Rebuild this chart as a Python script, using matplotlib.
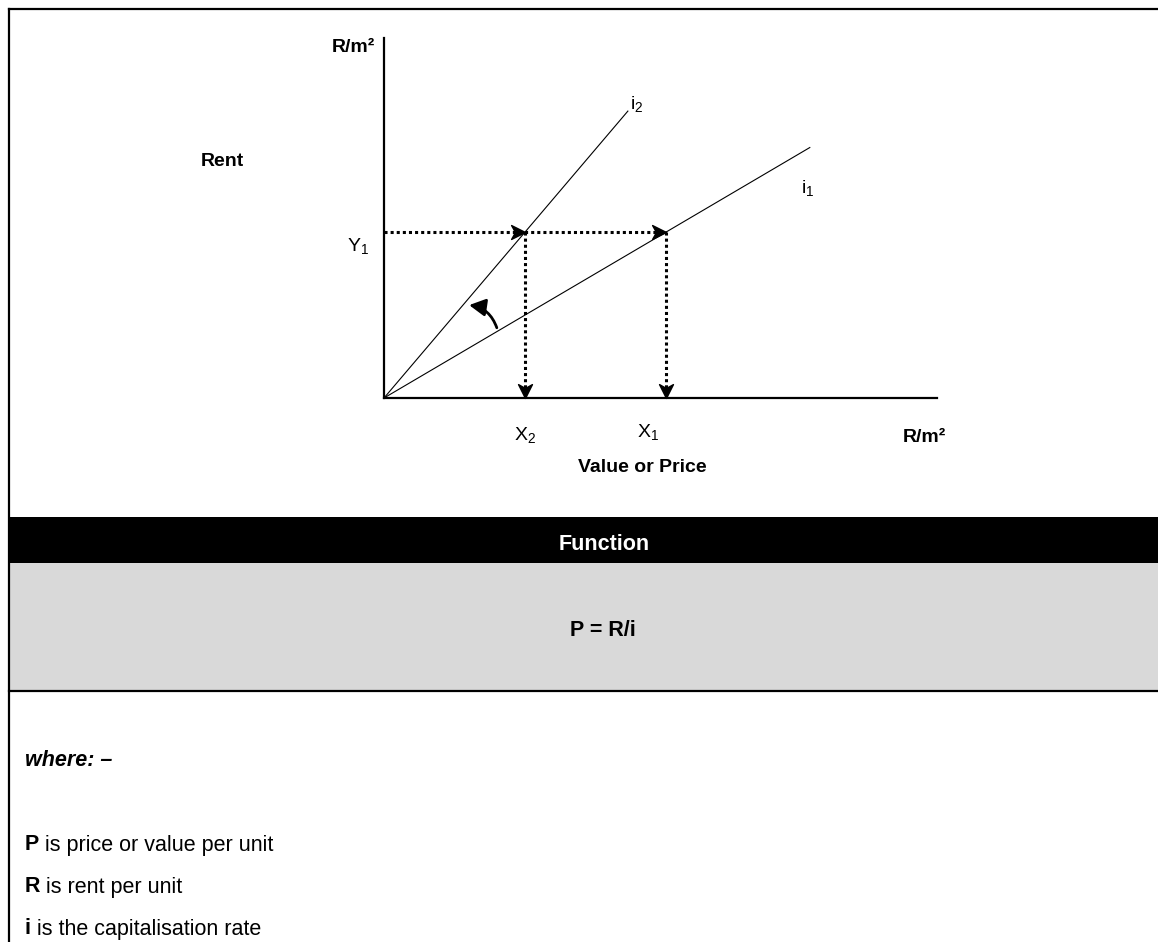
import matplotlib.pyplot as plt
from matplotlib.patches import Rectangle, FancyArrowPatch
from matplotlib.path import Path

plt.rcParams["font.family"] = ["Liberation Sans", "DejaVu Sans"]

# diagram values (axis units)
x_max = 10.0
y_max = 6.51
y1_rent = 3.0                 # Y1
x_values = [5.1, 2.55]        # X1, X2
line_end_x = [7.70, 4.41]     # where the i1 and i2 lines stop
x_labels = [r"$\mathregular{X_1}$", r"$\mathregular{X_2}$"]

# table text
header = "Function"
formula = "P = R/i"
where_text = "where: \u2013"
terms = ["P", "R", "i"]
term_desc = [" is price or value per unit", " is rent per unit", " is the capitalisation rate"]

W, H = 1158, 942
fig = plt.figure(figsize=(W / 100, H / 100), dpi=100)

# page layer in pixel coordinates
deco = fig.add_axes([0, 0, 1, 1])
deco.set_xlim(0, W)
deco.set_ylim(H, 0)
deco.axis("off")

deco.add_patch(Rectangle((10, 517), W - 10, 46, color="black", lw=0))
deco.add_patch(Rectangle((10, 563), W - 10, 128, color="#d9d9d9", lw=0))
deco.plot([9, W], [9, 9], color="black", lw=1.6, solid_capstyle="projecting")
deco.plot([9, 9], [9, H], color="black", lw=1.6, solid_capstyle="projecting")
deco.plot([9, W], [691, 691], color="black", lw=1.6)

deco.text(604, 545, header, color="white", fontsize=15.5, fontweight="bold",
          ha="center", va="center")
deco.text(603, 630, formula, color="black", fontsize=15.5, fontweight="bold",
          ha="center", va="center")

deco.text(25, 760, where_text, fontsize=15.5, fontweight="bold", fontstyle="italic",
          ha="left", va="center")
for k, (t, d) in enumerate(zip(terms, term_desc)):
    y = 845 + k * 42
    tb = deco.text(25, y, t, fontsize=15.5, fontweight="bold", ha="left", va="center")
    deco.annotate(d, xy=(1, 0), xycoords=tb, fontsize=15.5, ha="left", va="bottom")

deco.text(222, 162, "Rent", fontsize=14, fontweight="bold", ha="center", va="center")
deco.text(375, 48, "R/m\u00b2", fontsize=14, fontweight="bold", ha="right", va="center")
deco.text(924, 437, "R/m\u00b2", fontsize=14, fontweight="bold", ha="center", va="center")
deco.text(642, 467, "Value or Price", fontsize=14, fontweight="bold", ha="center", va="center")

# the diagram itself
ax = fig.add_axes([384 / W, 1 - 398 / H, 553 / W, 360 / H])
ax.set_xlim(0, x_max)
ax.set_ylim(0, y_max)
ax.patch.set_visible(False)
for s in ["top", "right"]:
    ax.spines[s].set_visible(False)
for s in ["left", "bottom"]:
    ax.spines[s].set_linewidth(1.6)
ax.set_xticks([])
ax.set_yticks([])

slopes = [y1_rent / x for x in x_values]
for slope, xe in zip(slopes, line_end_x):
    ax.plot([0, xe], [0, slope * xe], color="black", lw=0.8, clip_on=False)
ax.annotate(r"$\mathregular{i_2}$", xy=(line_end_x[1], slopes[1] * line_end_x[1]),
            xytext=(2, 7), textcoords="offset pixels", fontsize=14, ha="left", va="center")
ax.annotate(r"$\mathregular{i_1}$", xy=(line_end_x[0], slopes[0] * line_end_x[0]),
            xytext=(-2, -40), textcoords="offset pixels", fontsize=14, ha="center", va="center")

# dotted guides
dots = dict(color="black", lw=2.2, ls=(0, (1, 1)), clip_on=False)
ax.plot([0, max(x_values)], [y1_rent, y1_rent], **dots)
for xv in x_values:
    ax.plot([xv, xv], [y1_rent, 0], **dots)

codes = [Path.MOVETO, Path.LINETO, Path.LINETO, Path.LINETO, Path.CLOSEPOLY]
stealth_right = Path([(0, 0), (-1, 0.5), (-0.72, 0), (-1, -0.5), (0, 0)], codes)
stealth_down = Path([(0, 0), (-0.5, 1), (0, 0.72), (0.5, 1), (0, 0)], codes)
ax.plot(x_values, [y1_rent] * 2, ls="none", marker=stealth_right, ms=20,
        color="black", clip_on=False)
ax.plot(x_values, [0, 0], ls="none", marker=stealth_down, ms=20,
        color="black", clip_on=False)

ax.annotate(r"$\mathregular{Y_1}$", xy=(0, y1_rent), xytext=(-26, -14),
            textcoords="offset pixels", fontsize=14, ha="center", va="center")
ax.annotate(x_labels[1], xy=(x_values[1], 0), xytext=(0, -37),
            textcoords="offset pixels", fontsize=14, ha="center", va="center")
ax.annotate(x_labels[0], xy=(x_values[0], 0), xytext=(-18, -34),
            textcoords="offset pixels", fontsize=14, ha="center", va="center")

# rotation arrow from i1 towards i2
ax.add_patch(FancyArrowPatch((2.04, 1.27), (1.54, 1.68),
                             connectionstyle="arc3,rad=0.3",
                             arrowstyle="-|>,head_length=0.65,head_width=0.35",
                             mutation_scale=15, lw=2, color="black",
                             shrinkA=0, shrinkB=0))

fig.savefig("out.png", dpi=100)
